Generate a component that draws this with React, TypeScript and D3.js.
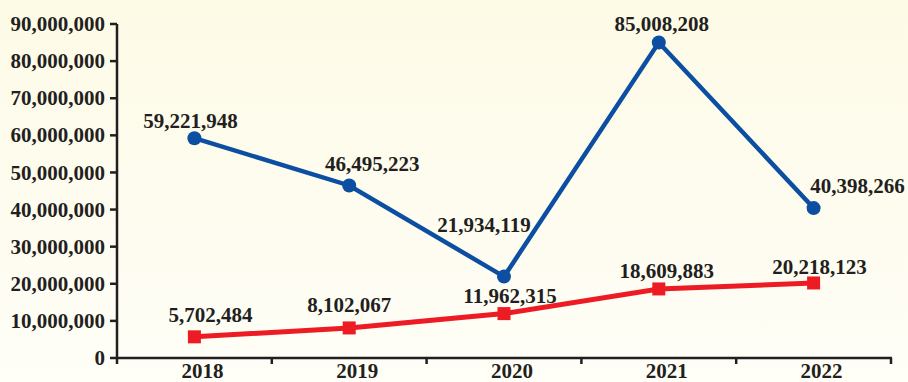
import * as d3 from 'd3'
import { useEffect } from 'react'

const years = ['2018', '2019', '2020', '2021', '2022']
const blueValues = [59221948, 46495223, 21934119, 85008208, 40398266]
const redValues = [5702484, 8102067, 11962315, 18609883, 20218123]
const yTicks = [0, 10000000, 20000000, 30000000, 40000000, 50000000, 60000000, 70000000, 80000000, 90000000]

// label offsets from their point (dx, dy)
const blueLabelOffsets = [[-4, -10], [23, -14], [-20, -45], [3, -12], [44, -15]]
const redLabelOffsets = [[16, -15], [0, -16], [6, -11], [8, -11], [6, -9]]

const W = 908
const H = 382
const INK = '#231f20'
const BLUE = '#0b4ea2'
const RED = '#ed1c24'
const FONT = '"Liberation Serif", "Times New Roman", serif'

const App = () => {
  useEffect(() => {
    document.body.style.margin = '0'
  }, [])

  const x = d3.scaleBand().domain(years).range([117, 891])
  const y = d3.scaleLinear().domain([0, 90000000]).range([358, 24])
  const cx = (d: string) => (x(d) as number) + x.bandwidth() / 2
  const fmt = d3.format(',')
  const line = d3.line<number>().x((d, i) => cx(years[i])).y(d => y(d))
  const bounds = [...years.map(d => x(d) as number), 891]

  return (
    <svg width={W} height={H} style={{ display: 'block' }}>
      <defs>
        <linearGradient id="bg" x1="0" y1="0" x2="0" y2="1">
          <stop offset="0" stopColor="#fdfae6" />
          <stop offset="1" stopColor="#fffef7" />
        </linearGradient>
      </defs>
      <rect width={W} height={H} fill="url(#bg)" />
      <g fontFamily={FONT} fontWeight="bold" fontSize={21} fill={INK}>
        {/* y axis */}
        <line x1={117} x2={117} y1={y(90000000)} y2={y(0) + 1} stroke={INK} strokeWidth={2.5} />
        {yTicks.map(t => (
          <g key={t}>
            <line x1={110} x2={117} y1={y(t)} y2={y(t)} stroke={INK} strokeWidth={2.5} />
            <text x={105} y={y(t)} dy="0.34em" textAnchor="end">{fmt(t)}</text>
          </g>
        ))}
        {/* x axis */}
        <line x1={116} x2={892} y1={y(0)} y2={y(0)} stroke={INK} strokeWidth={2.5} />
        {bounds.map((b, i) => (
          <line key={i} x1={b} x2={b} y1={y(0)} y2={y(0) + 6} stroke={INK} strokeWidth={2.5} />
        ))}
        {years.map(d => (
          <text key={d} x={cx(d) + 8} y={378} textAnchor="middle">{d}</text>
        ))}
        {/* series */}
        <path d={line(redValues) as string} fill="none" stroke={RED} strokeWidth={5} />
        <path d={line(blueValues) as string} fill="none" stroke={BLUE} strokeWidth={4.5} />
        {blueValues.map((v, i) => (
          <circle key={i} cx={cx(years[i])} cy={y(v)} r={7} fill={BLUE} />
        ))}
        {redValues.map((v, i) => (
          <rect key={i} x={cx(years[i]) - 6.5} y={y(v) - 6.5} width={13} height={13} fill={RED} />
        ))}
        {blueValues.map((v, i) => (
          <text key={i} x={cx(years[i]) + blueLabelOffsets[i][0]} y={y(v) + blueLabelOffsets[i][1]} textAnchor="middle">{fmt(v)}</text>
        ))}
        {redValues.map((v, i) => (
          <text key={i} x={cx(years[i]) + redLabelOffsets[i][0]} y={y(v) + redLabelOffsets[i][1]} textAnchor="middle">{fmt(v)}</text>
        ))}
      </g>
    </svg>
  )
}

export default App
